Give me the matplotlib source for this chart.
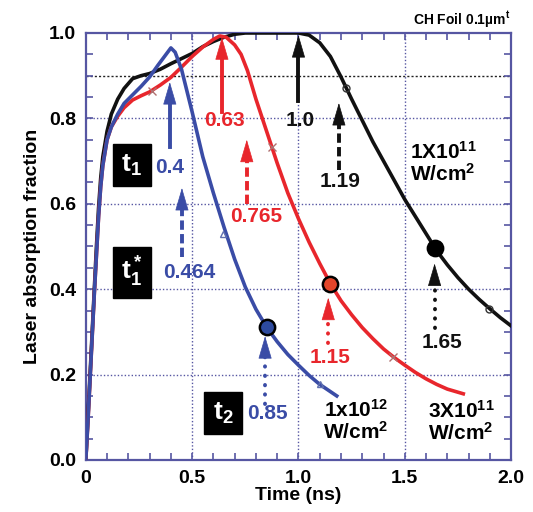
import matplotlib
matplotlib.use('Agg')
import matplotlib.pyplot as plt
from matplotlib.ticker import MultipleLocator

plt.rcParams['font.family'] = ['Liberation Sans', 'DejaVu Sans']
plt.rcParams['font.weight'] = 'bold'
plt.rcParams['mathtext.fontset'] = 'custom'
plt.rcParams['mathtext.rm'] = 'Liberation Sans:bold'
plt.rcParams['mathtext.it'] = 'Liberation Sans:bold'
plt.rcParams['mathtext.bf'] = 'Liberation Sans:bold'

# --- data ---
# 1X10^11 W/cm2 (black)
t_black = [0, 0.01, 0.02, 0.03, 0.04, 0.05, 0.06, 0.07, 0.08, 0.1, 0.12, 0.15,
           0.18, 0.22, 0.26, 0.3, 0.35, 0.4, 0.45, 0.5, 0.55, 0.6, 0.65, 0.7,
           0.75, 0.8, 0.9, 1.0, 1.05, 1.1, 1.15, 1.2, 1.25, 1.3, 1.35, 1.4,
           1.45, 1.5, 1.55, 1.6, 1.65, 1.7, 1.75, 1.8, 1.85, 1.9, 1.95, 2.0]
a_black = [0, 0.1, 0.2, 0.3, 0.4, 0.5, 0.59, 0.66, 0.71, 0.77, 0.81, 0.845,
           0.87, 0.893, 0.9, 0.905, 0.915, 0.928, 0.94, 0.952, 0.968, 0.98, 0.99, 0.997,
           1.0, 1.0, 1.0, 1.0, 0.995, 0.977, 0.945, 0.897, 0.845, 0.795, 0.745, 0.70,
           0.655, 0.61, 0.57, 0.53, 0.49, 0.457, 0.427, 0.40, 0.376, 0.354, 0.333, 0.314]

# 3X10^11 W/cm2 (red)
t_red = [0, 0.01, 0.02, 0.03, 0.04, 0.05, 0.06, 0.07, 0.08, 0.1, 0.12, 0.15,
         0.18, 0.22, 0.26, 0.3, 0.35, 0.4, 0.45, 0.5, 0.55, 0.6, 0.63, 0.66,
         0.7, 0.73, 0.76, 0.8, 0.85, 0.9, 0.95, 1.0, 1.05, 1.1, 1.15, 1.2,
         1.25, 1.3, 1.35, 1.4, 1.45, 1.5, 1.55, 1.6, 1.65, 1.7, 1.775]
a_red = [0, 0.09, 0.19, 0.29, 0.39, 0.48, 0.57, 0.64, 0.69, 0.75, 0.78, 0.805,
         0.825, 0.843, 0.853, 0.862, 0.878, 0.896, 0.92, 0.945, 0.967, 0.985, 0.993, 0.99,
         0.972, 0.95, 0.912, 0.845, 0.77, 0.695, 0.625, 0.565, 0.51, 0.46, 0.413, 0.373,
         0.34, 0.31, 0.284, 0.26, 0.24, 0.222, 0.205, 0.19, 0.177, 0.166, 0.155]

# 1x10^12 W/cm2 (blue)
t_blue = [0, 0.01, 0.02, 0.03, 0.04, 0.05, 0.06, 0.07, 0.08, 0.1, 0.12, 0.15,
          0.18, 0.22, 0.26, 0.3, 0.34, 0.37, 0.4, 0.42, 0.45, 0.5, 0.55, 0.6,
          0.65, 0.7, 0.75, 0.8, 0.85, 0.9, 0.95, 1.0, 1.05, 1.1, 1.18]
a_blue = [0, 0.09, 0.19, 0.29, 0.39, 0.48, 0.57, 0.64, 0.69, 0.75, 0.78, 0.81,
          0.835, 0.855, 0.875, 0.897, 0.925, 0.945, 0.965, 0.955, 0.915, 0.815, 0.71, 0.625,
          0.545, 0.47, 0.405, 0.353, 0.311, 0.277, 0.247, 0.222, 0.198, 0.177, 0.15]

# marked times (big dots) and small symbols on the curves
dot_t = [0.85, 1.15, 1.64]
dot_a = [0.311, 0.413, 0.497]
open_t_black = [1.224, 1.897]
open_a_black = [0.871, 0.354]
cross_t_red = [0.31, 0.875, 1.445]
cross_a_red = [0.865, 0.733, 0.24]
tri_t_blue = [0.645, 1.10]
tri_a_blue = [0.53, 0.177]

x_ticks = [0, 0.5, 1.0, 1.5, 2.0]
x_ticklabels = ['0', '0.5', '1.0', '1.5', '2.0']
y_ticks = [0.0, 0.2, 0.4, 0.6, 0.8, 1.0]

BLACK = '#111111'
RED = '#e8262c'
BLUE = '#3a4ca6'
FRAME = '#5656a2'


def draw_arrow(ax, x, tail, tip, color, style):
    head = 0.035
    if style == 'solid':
        ls = '-'
    elif style == 'dashed':
        ls = (0, (2.4, 1.1))
    else:
        ls = (0, (0.1, 2.3))
    ax.plot([x, x], [tail, tip - head], color=color, lw=2.8, linestyle=ls,
            dash_capstyle='round' if style == 'dotted' else 'butt', zorder=4)
    ax.annotate('', xy=(x, tip), xytext=(x, tip - head - 0.005),
                arrowprops=dict(arrowstyle='-|>,head_length=0.75,head_width=0.22',
                                color=color, lw=0.5, mutation_scale=20,
                                shrinkA=0, shrinkB=0), zorder=5)


def box_label(ax, x, y, text):
    ax.text(x, y, text, color='white', fontsize=19, ha='center', va='center',
            bbox=dict(boxstyle='square,pad=0.32', fc='black', ec='black'), zorder=6)


fig = plt.figure(figsize=(5.33, 5.12), dpi=100)
ax = fig.add_axes([0.161, 0.1016, 0.798, 0.834])

# grid and the 0.9 reference line
for gx in [0.5, 1.0, 1.5]:
    ax.axvline(gx, color=FRAME, lw=1.0, linestyle=(0, (1, 1.5)), zorder=1)
for gy in [0.2, 0.4, 0.6, 0.8]:
    ax.axhline(gy, color=FRAME, lw=1.0, linestyle=(0, (1, 1.5)), zorder=1)
ax.axhline(0.9, color='#222222', lw=1.0, linestyle=(0, (1.5, 1.5)), zorder=1)

# curves
ax.plot(t_black, a_black, color=BLACK, lw=2.6, zorder=3)
ax.plot(t_red, a_red, color=RED, lw=2.6, zorder=3)
ax.plot(t_blue, a_blue, color=BLUE, lw=2.6, zorder=3)

# small symbols
ax.plot(open_t_black, open_a_black, 'o', mfc='none', mec='#333333', ms=5, mew=1, zorder=4)
ax.plot(cross_t_red, cross_a_red, 'x', color='#b07070', ms=6, mew=1, zorder=4)
ax.plot(tri_t_blue, tri_a_blue, '^', mfc='none', mec='#6070b0', ms=4, mew=1, zorder=4)

# big dots
ax.plot(dot_t[0], dot_a[0], 'o', mfc='#2d4a9e', mec='black', ms=11, mew=1.8, zorder=5)
ax.plot(dot_t[1], dot_a[1], 'o', mfc='#e2452a', mec='black', ms=11, mew=1.8, zorder=5)
ax.plot(dot_t[2], dot_a[2], 'o', mfc='black', mec='black', ms=11, mew=1.8, zorder=5)

# arrows with their times
draw_arrow(ax, 0.395, 0.733, 0.885, BLUE, 'solid')
ax.text(0.395, 0.684, '0.4', color=BLUE, fontsize=15, ha='center', va='center')
draw_arrow(ax, 0.452, 0.475, 0.637, BLUE, 'dashed')
ax.text(0.485, 0.44, '0.464', color=BLUE, fontsize=15, ha='center', va='center')

draw_arrow(ax, 0.64, 0.815, 0.99, RED, 'solid')
ax.text(0.654, 0.794, '0.63', color=RED, fontsize=15, ha='center', va='center')
draw_arrow(ax, 0.757, 0.60, 0.75, RED, 'dashed')
ax.text(0.80, 0.571, '0.765', color=RED, fontsize=15, ha='center', va='center')

draw_arrow(ax, 1.0, 0.84, 0.995, BLACK, 'solid')
ax.text(1.007, 0.796, '1.0', color=BLACK, fontsize=15, ha='center', va='center')
draw_arrow(ax, 1.19, 0.68, 0.836, BLACK, 'dashed')
ax.text(1.195, 0.651, '1.19', color=BLACK, fontsize=15, ha='center', va='center')

draw_arrow(ax, 0.843, 0.13, 0.29, BLUE, 'dotted')
ax.text(0.852, 0.11, '0.85', color=BLUE, fontsize=15, ha='center', va='center')
draw_arrow(ax, 1.14, 0.274, 0.38, RED, 'dotted')
ax.text(1.148, 0.241, '1.15', color=RED, fontsize=15, ha='center', va='center')
draw_arrow(ax, 1.64, 0.31, 0.46, BLACK, 'dotted')
ax.text(1.675, 0.276, '1.65', color=BLACK, fontsize=15, ha='center', va='center')

# intensity labels
ax.text(1.68, 0.696, '1X10$^{11}$\nW/cm$^{2}$', fontsize=15, ha='center', va='center', linespacing=1.0)
ax.text(1.27, 0.091, '1x10$^{12}$\nW/cm$^{2}$', fontsize=15, ha='center', va='center', linespacing=1.0)
ax.text(1.765, 0.089, '3X10$^{11}$\nW/cm$^{2}$', fontsize=15, ha='center', va='center', linespacing=1.0)

# time markers
box_label(ax, 0.216, 0.691, r'$\mathbf{t_1}$')
box_label(ax, 0.216, 0.44, r'$\mathbf{t_1^*}$')
box_label(ax, 0.645, 0.11, r'$\mathbf{t_2}$')

fig.text(0.957, 0.962, r'CH Foil 0.1µm$^{\mathbf{t}}$', fontsize=10, ha='right', va='center')

ax.set_xlim(0, 2.0)
ax.set_ylim(0, 1.0)
ax.set_xticks(x_ticks)
ax.set_xticklabels(x_ticklabels)
ax.set_yticks(y_ticks)
ax.xaxis.set_minor_locator(MultipleLocator(0.1))
ax.yaxis.set_minor_locator(MultipleLocator(0.05))
ax.tick_params(which='both', direction='in', top=True, right=True, color=FRAME, width=1.2)
ax.tick_params(which='major', length=5, labelsize=14, pad=7)
ax.tick_params(which='minor', length=5)
for s in ax.spines.values():
    s.set_color(FRAME)
    s.set_linewidth(1.6)

ax.set_xlabel('Time (ns)', fontsize=14, fontweight='bold', labelpad=0)
ax.set_ylabel('Laser absorption fraction', fontsize=14, fontweight='bold', labelpad=6)

plt.savefig('out.png', dpi=100)
